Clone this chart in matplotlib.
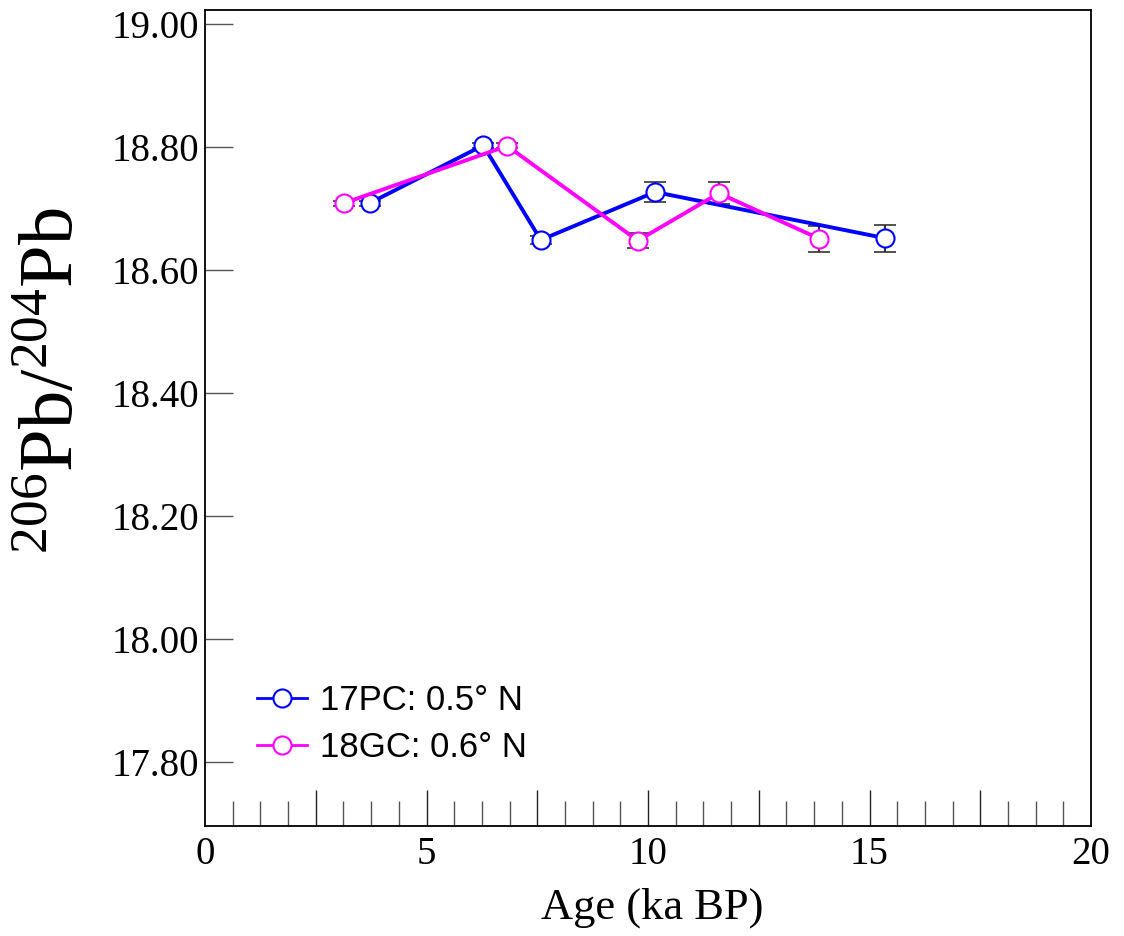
import matplotlib
matplotlib.use("Agg")
import matplotlib.pyplot as plt
import numpy as np

# Data
age_17pc = [3.72, 6.28, 7.58, 10.16, 15.35]
pb_17pc = [18.709, 18.803, 18.649, 18.727, 18.652]
err_17pc = [0.004, 0.004, 0.006, 0.016, 0.022]

age_18gc = [3.14, 6.82, 9.77, 11.60, 13.87]
pb_18gc = [18.709, 18.802, 18.648, 18.725, 18.651]
err_18gc = [0.004, 0.004, 0.012, 0.018, 0.021]

labels = ["17PC: 0.5° N", "18GC: 0.6° N"]
yticks = [17.80, 18.00, 18.20, 18.40, 18.60, 18.80, 19.00]
xticks_labels = [0, 5, 10, 15, 20]

serif = "Liberation Serif"
sans = "Liberation Sans"
plt.rcParams["mathtext.fontset"] = "custom"
plt.rcParams["mathtext.rm"] = serif
plt.rcParams["mathtext.it"] = serif + ":italic"

fig = plt.figure(figsize=(11.24, 9.36), dpi=100)
ax = fig.add_axes([205/1124, 1 - 826/936, (1091-205)/1124, (826-10)/936])

for x, y, e, c, lab in [(age_17pc, pb_17pc, err_17pc, "#0000ff", labels[0]),
                        (age_18gc, pb_18gc, err_18gc, "#ff00ff", labels[1])]:
    ax.errorbar(x, y, yerr=e, fmt="none", ecolor="#333333", elinewidth=1.5,
                capsize=8, capthick=1.2, zorder=2)
    ax.plot(x, y, "-o", color=c, lw=2.8, ms=13, mfc="white", mec=c, mew=1.5,
            label=lab, zorder=3)

ax.set_xlim(0, 20)
ax.set_ylim(17.696, 19.023)

ax.set_yticks(yticks)
ax.set_yticklabels([f"{v:.2f}" for v in yticks], fontfamily=serif, fontsize=28)
ax.tick_params(axis="y", direction="in", length=20, width=1, color="#555555", pad=4)

# x axis: labels at 0,5,...; tick marks major every 2.5, minor every 0.625
ax.set_xticks(np.arange(2.5, 20, 2.5))
ax.set_xticklabels([])
ax.set_xticks(np.arange(0.625, 20, 0.625), minor=True)
ax.tick_params(axis="x", which="major", direction="in", length=26, width=1, color="#222222")
ax.tick_params(axis="x", which="minor", direction="in", length=18, width=1, color="#555555")
for v in xticks_labels:
    ax.text(v, -0.012, str(v), transform=ax.get_xaxis_transform(), ha="center", va="top",
            fontfamily=serif, fontsize=28)

for s in ax.spines.values():
    s.set_linewidth(1.3)

fig.text(652/1124, 1 - 908/936, "Age (ka BP)", fontfamily=serif, fontsize=32,
         ha="center", va="center")
fig.text(52/1124, 1 - 381/936, r"$\mathrm{^{206}Pb/^{204}Pb}$", fontsize=55,
         rotation=90, ha="center", va="center")

leg = ax.legend(loc="center left", bbox_to_anchor=(52/886, (826-724)/816), frameon=False,
                prop={"family": sans, "size": 25}, handlelength=1.45, labelspacing=0.42,
                handletextpad=0.37, borderpad=0, borderaxespad=0)
for h in leg.legend_handles:
    h.set_linewidth(2.0)
    h.set_markersize(13)

fig.savefig("out.png", dpi=100)
